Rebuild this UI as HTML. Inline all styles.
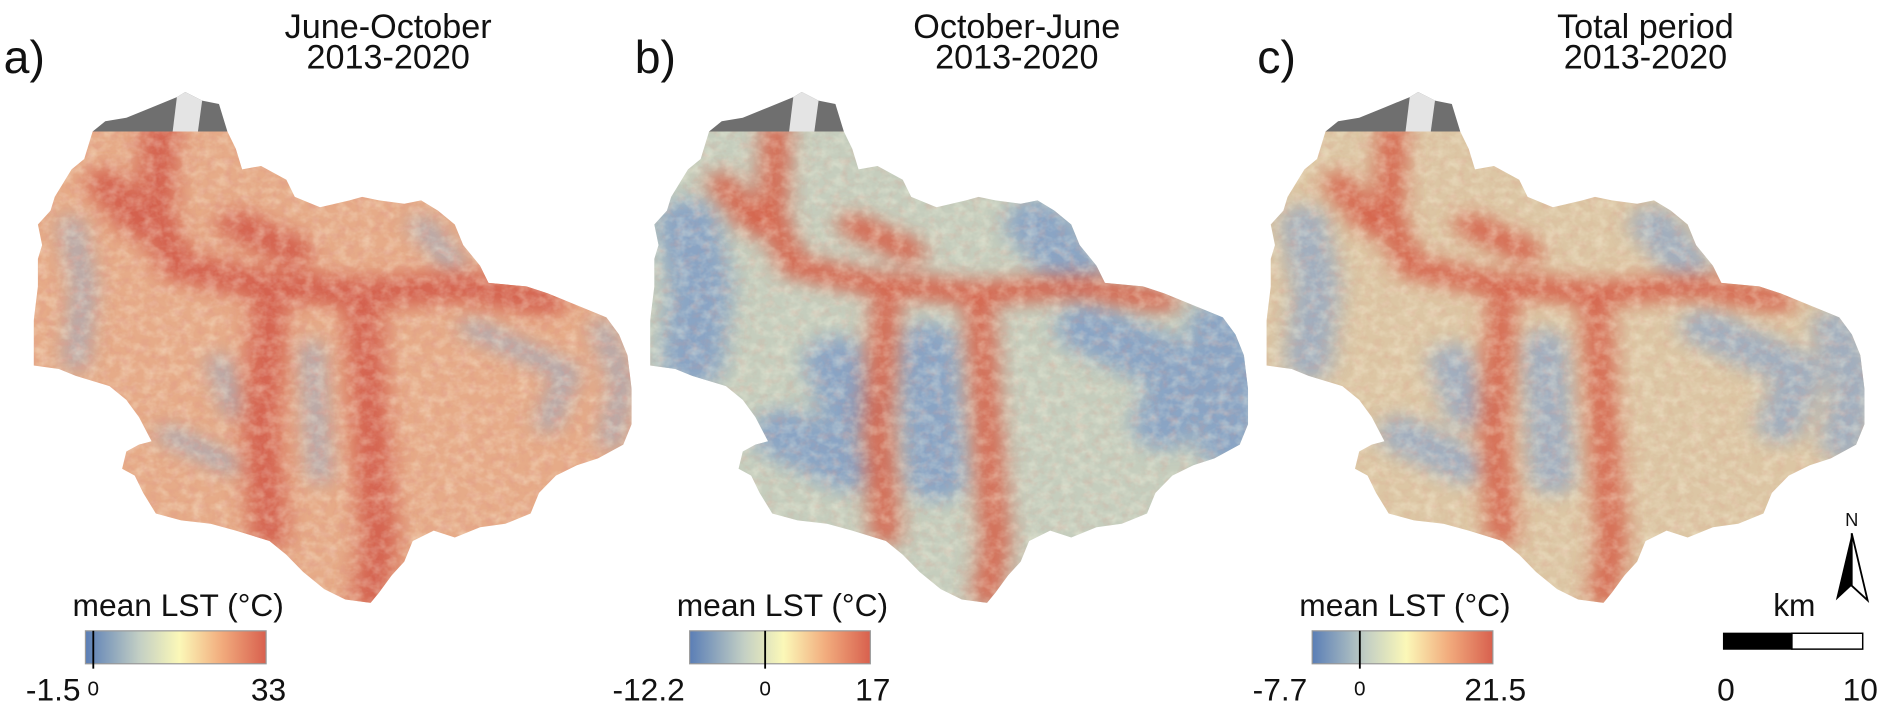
<!DOCTYPE html>
<html><head><meta charset="utf-8"><style>
html,body{margin:0;padding:0;background:#fff;overflow:hidden;}
svg{display:block;}
text{font-family:"Liberation Sans",sans-serif;fill:#111;}
</style></head><body>
<svg id="fig" width="1892" height="726" viewBox="0 0 1550 595" preserveAspectRatio="none" xmlns="http://www.w3.org/2000/svg">
<defs>
<linearGradient id="cbar" x1="0" x2="1" y1="0" y2="0">
<stop offset="0" stop-color="#5a7eb6"/><stop offset="0.3" stop-color="#c3cfc4"/><stop offset="0.52" stop-color="#fbf8b8"/><stop offset="0.75" stop-color="#f2ad7e"/><stop offset="1" stop-color="#d8604e"/>
</linearGradient>
<filter id="blur" x="-0.2" y="-0.2" width="1.4" height="1.4"><feGaussianBlur stdDeviation="26"/></filter>
<filter id="noise" x="0" y="0" width="1" height="1">
<feTurbulence type="fractalNoise" baseFrequency="0.035" numOctaves="3" seed="4"/>
<feColorMatrix type="matrix" values="0 0 0 0 1  0 0 0 0 0.98  0 0 0 0 0.8  0 0 0 1.3 -0.5"/>
</filter>
<filter id="noise2" x="0" y="0" width="1" height="1">
<feTurbulence type="fractalNoise" baseFrequency="0.045" numOctaves="3" seed="9"/>
<feColorMatrix type="matrix" values="0 0 0 0 0.75  0 0 0 0 0.3  0 0 0 0 0.25  0 0 0 1.3 -0.6"/>
</filter>
</defs>
<g id="panels"></g>
<g>
<text x="1470" y="505" font-size="26" text-anchor="middle">km</text>
<rect x="1412" y="519" width="56" height="13" fill="#000" stroke="#000"/>
<rect x="1468" y="519" width="58" height="13" fill="#fff" stroke="#000" stroke-width="1.2"/>
<text x="1414" y="574" font-size="26" text-anchor="middle">0</text>
<text x="1524" y="574" font-size="26" text-anchor="middle">10</text>
</g>
<g>
<text x="1517" y="431" font-size="15" text-anchor="middle">N</text>
<path d="M1517 437 L1504 492 L1517 480 Z" fill="#000"/>
<path d="M1517 437 L1530 492 L1517 480 Z" fill="#fff" stroke="#000" stroke-width="1.5"/>
</g>
</svg>
<script>
const panelLabels=['a)','b)','c)'];
const titleLine1=['June-October','October-June','Total period'];
const titleLine2=['2013-2020','2013-2020','2013-2020'];
const minVals=[-1.5,-12.2,-7.7];
const maxVals=[33,17,21.5];
const zeroLabels=['0','0','0'];
const baseColors=['#e6ab88','#c5cdbd','#dcc6a4'];
const valleyColors=['#d4614d','#d6634c','#d6634c'];
const blueColors=['#8fa8c8','#7f9dc6','#8ca6c8'];
const blueWidths=[50,150,110];
const blueOpac=[0.7,0.85,0.75];
const offsets=[0,505,1010];
const titleX=[318,833,1348];
const labelX=[3,520,1030];
const NS='http://www.w3.org/2000/svg';
const outline="M220 150 L540 150 L560 200 L575 260 L620 250 L680 290 L700 340 L760 370 L830 350 L860 340 L900 350 L960 360 L1000 350 L1040 380 L1080 420 L1100 480 L1140 540 L1160 590 L1250 600 L1300 620 L1380 660 L1440 690 L1470 740 L1490 800 L1500 900 L1500 1000 L1480 1060 L1420 1100 L1370 1120 L1320 1150 L1280 1200 L1260 1260 L1200 1290 L1140 1300 L1080 1330 L1030 1310 L980 1340 L960 1400 L930 1440 L900 1490 L880 1520 L820 1510 L770 1480 L720 1430 L680 1380 L640 1340 L560 1310 L500 1290 L430 1280 L370 1260 L340 1200 L320 1150 L290 1130 L300 1080 L330 1060 L360 1050 L330 980 L300 930 L260 890 L180 860 L140 840 L80 830 L80 700 L90 600 L90 520 L100 480 L90 420 L120 380 L130 340 L150 300 L170 260 L200 230 L210 190 Z";
const valleys="M380 150 L370 400 L420 540 L600 590 L860 620 L1100 600 L1300 640 M860 620 L880 1000 L900 1350 L880 1500 M640 660 L620 1000 L640 1320 M250 300 L330 420 M560 420 L700 500";
const blues="M1430 720 L1480 880 L1450 1050 M170 420 L200 600 L180 820 M740 780 L760 1150 M400 1030 L550 1120 M1120 720 L1350 850 L1300 1000 M1000 420 L1080 540 M520 820 L560 960";
const panels=document.getElementById('panels');
function el(tag,attrs,parent){const e=document.createElementNS(NS,tag);for(const k in attrs)e.setAttribute(k,attrs[k]);parent.appendChild(e);return e;}
panelLabels.forEach((lab,i)=>{
 const g=el('g',{},panels);
 
 
 const m=el('g',{transform:'translate('+offsets[i]+',65.5) scale(0.345,0.282)'},g);
 
 
 el('path',{d:'M220 150 L250 120 L300 110 L360 80 L420 50 L440 35 L480 60 L520 70 L540 150 Z',fill:'#6f6f6f'},m);
 el('path',{d:'M420 50 L440 35 L480 60 L470 150 L410 150 Z',fill:'#e4e4e4'},m);
 const cp=el('clipPath',{id:'clip'+i},m);el('path',{d:outline},cp);
 const c=el('g',{'clip-path':'url(#clip'+i+')'},m);
 el('rect',{x:0,y:100,width:1600,height:1500,fill:baseColors[i]},c);
 el('path',{d:blues,stroke:blueColors[i],'stroke-width':blueWidths[i],opacity:blueOpac[i],fill:'none',filter:'url(#blur)','stroke-linecap':'round','stroke-linejoin':'round'},c);
 el('path',{d:valleys,stroke:valleyColors[i],'stroke-width':i==0?90:70,fill:'none',filter:'url(#blur)','stroke-linecap':'round','stroke-linejoin':'round'},c);
 el('rect',{x:0,y:100,width:1600,height:1500,filter:'url(#noise)',opacity:0.55},c);
 el('rect',{x:0,y:100,width:1600,height:1500,filter:'url(#noise2)',opacity:i==0?0.7:0.4},c);
 const t=el('text',{x:labelX[i],y:60,'font-size':38},g);t.textContent=lab;
 
 
 const t1=el('text',{x:titleX[i],y:31,'font-size':28,'text-anchor':'middle'},g);t1.textContent=titleLine1[i];
 
 
 const t2=el('text',{x:titleX[i],y:56,'font-size':28,'text-anchor':'middle'},g);t2.textContent=titleLine2[i];
 
 
 const cx=70+offsets[i]-(i==1?10:0)-(i==2?5:0);
 const cb=el('g',{},g);
 
 
 const lt=el('text',{x:cx+76,y:505,'font-size':26,'text-anchor':'middle'},cb);lt.textContent='mean LST (°C)';
 el('rect',{x:cx,y:517,width:148,height:27,fill:'url(#cbar)',stroke:'#999','stroke-width':1},cb);
 const zx=cx+148*(0-minVals[i])/(maxVals[i]-minVals[i]);
 el('line',{x1:zx,x2:zx,y1:517,y2:548,stroke:'#000','stroke-width':1.5},cb);
 const a=el('text',{x:cx-4,y:574,'font-size':26,'text-anchor':'end'},cb);a.textContent=minVals[i];
 const b=el('text',{x:cx+150,y:574,'font-size':26,'text-anchor':'middle'},cb);b.textContent=maxVals[i];
 const z=el('text',{x:zx,y:570,'font-size':17,'text-anchor':'middle'},cb);z.textContent=zeroLabels[i];
});
</script>
</body></html>
